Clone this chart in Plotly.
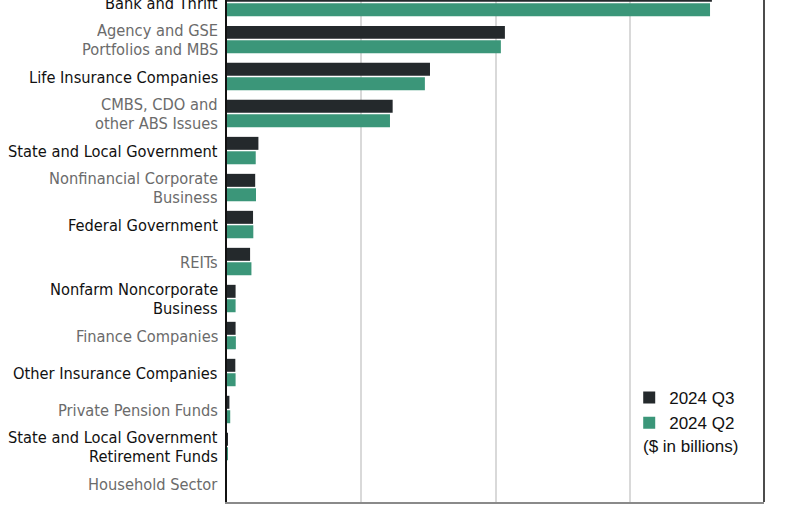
import plotly.graph_objects as go

# Categories listed top to bottom as in the chart
categories = [
    "Bank and Thrift",
    "Agency and GSE<br>Portfolios and MBS",
    "Life Insurance Companies",
    "CMBS, CDO and<br>other ABS Issues",
    "State and Local Government",
    "Nonfinancial Corporate<br>Business",
    "Federal Government",
    "REITs",
    "Nonfarm Noncorporate<br>Business",
    "Finance Companies",
    "Other Insurance Companies",
    "Private Pension Funds",
    "State and Local Government<br>Retirement Funds",
    "Household Sector",
]
q3_2024 = [1806, 1035, 756, 617, 117, 105, 97, 86, 32, 32, 31, 9, 2, 0]
q2_2024 = [1799, 1020, 737, 607, 107, 108, 98, 91, 32, 33, 32, 12, 2, 0]
label_colors = ["#111111", "#6b6b6b"] * 7

DARK = "#24292c"
GREEN = "#3b9679"

cats_bt = categories[::-1]
q3_bt = q3_2024[::-1]
q2_bt = q2_2024[::-1]

fig = go.Figure()
fig.add_trace(go.Bar(y=cats_bt, x=q2_bt, orientation="h", name="2024 Q2",
                     marker=dict(color=GREEN, line=dict(width=0))))
fig.add_trace(go.Bar(y=cats_bt, x=q3_bt, orientation="h", name="2024 Q3",
                     marker=dict(color=DARK, line=dict(width=0))))

label_font = "DejaVu Sans Condensed, Liberation Sans Narrow, sans-serif"
annotations = []
for cat, col in zip(categories, label_colors):
    lines = cat.split("<br>")
    n = len(lines)
    for i, ln in enumerate(lines):
        shift = ((n - 1) / 2 - i) * 18.5
        annotations.append(dict(
            x=0, y=cat, xref="x", yref="y", text=ln, showarrow=False,
            xanchor="right", yanchor="middle", xshift=-8, yshift=shift,
            height=18, borderpad=0, valign="middle",
            font=dict(family=label_font, size=16.3, color=col)))

annotations.append(dict(
    x=0.775, y=0.11, xref="paper", yref="paper", text="($ in billions)",
    showarrow=False, xanchor="left", yanchor="middle", xshift=-2,
    font=dict(family="Liberation Sans, Arial, sans-serif", size=17, color="#111111")))

fig.update_layout(
    width=800, height=506,
    margin=dict(l=227, r=36, t=0, b=4),
    paper_bgcolor="white", plot_bgcolor="white",
    barmode="group", bargap=0.22, bargroupgap=0.1,
    showlegend=True,
    legend=dict(x=0.749, y=0.243, xanchor="left", yanchor="top",
                traceorder="reversed", bgcolor="rgba(0,0,0,0)",
                font=dict(family="Liberation Sans, Arial, sans-serif", size=17, color="#111111"),
                itemwidth=30, tracegroupgap=0),
    xaxis=dict(range=[0, 2000], tickvals=[500, 1000, 1500], showticklabels=False,
               showgrid=True, gridcolor="#d9d9d9", gridwidth=1.5, zeroline=False,
               showline=True, linecolor="#8a8a8a", linewidth=2, ticks=""),
    yaxis=dict(type="category", categoryorder="array", categoryarray=cats_bt,
               range=[-0.5, 13.07], showticklabels=False, showgrid=False,
               showline=True, linecolor="#111111", linewidth=1.5, ticks="", zeroline=False),
    annotations=annotations,
    shapes=[dict(type="line", xref="paper", yref="paper", x0=1, x1=1, y0=0, y1=1,
                 line=dict(color="#111111", width=1.5))],
)

fig.write_html("out.html")
